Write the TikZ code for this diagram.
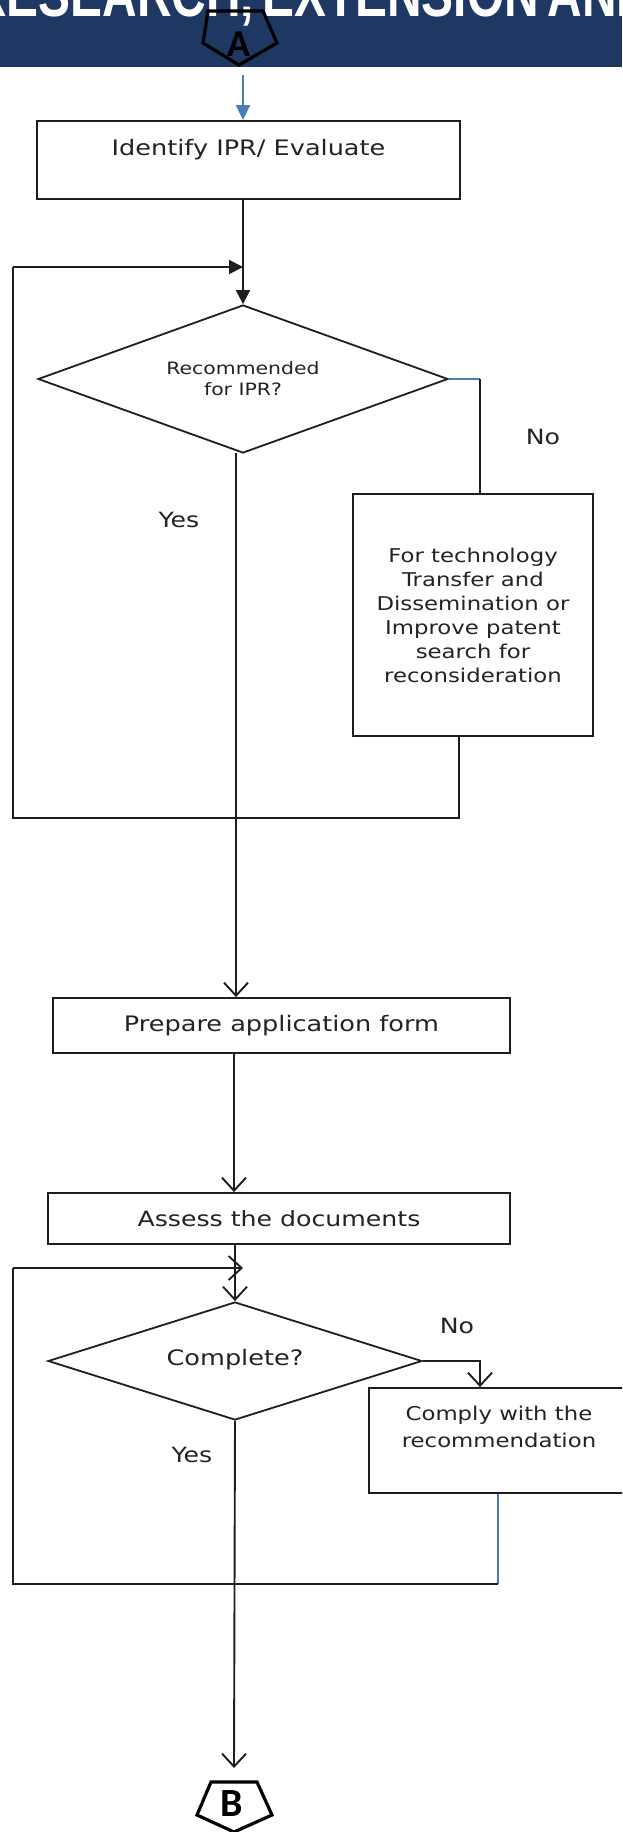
\documentclass[tikz,border=0pt]{standalone}
\usepackage{fontspec}
\setmainfont{DejaVu Sans}[FakeStretch=1.2]
\newfontfamily\bannerfont{Liberation Sans}[FakeStretch=0.76]
\newfontfamily\connfont{Carlito}
\usetikzlibrary{shapes.geometric,arrows.meta}
\definecolor{navy}{RGB}{31,56,99}
\definecolor{linec}{RGB}{30,30,30}
\definecolor{textc}{RGB}{35,35,35}
\definecolor{flowblue}{RGB}{74,126,187}
\newcommand{\fsz}[2]{\fontsize{#1}{#2}\selectfont}
\begin{document}
\begin{tikzpicture}[x=1pt,y=-1pt,
  box/.style={draw=linec, line width=1.9pt, rectangle, inner sep=0pt, align=center, text=textc},
  decision/.style={draw=linec, line width=1.8pt, diamond, inner sep=0pt, align=center, text=textc},
  flow/.style={draw=linec, line width=1.9pt},
  bflow/.style={draw=flowblue, line width=1.9pt},
  openarrow/.style={-{Straight Barb[length=13pt,width=24pt]}},
  fillarrow/.style={-{Triangle[length=14pt,width=14pt]}},
  lbl/.style={text=textc, inner sep=0pt, font=\fsz{21}{26}},
  connector/.style={draw=black, line width=3.2pt, line join=miter},
]
\useasboundingbox (0,0) rectangle (622,1832);
\clip (0,0) rectangle (622,1832);
\fill[white] (0,0) rectangle (622,1832);

% title banner
\fill[navy] (0,0) rectangle (622,67);
\node[anchor=base west, inner sep=0pt, text=white, font=\bannerfont\bfseries\fsz{63}{70}] (title) at (-28,16) {RESEARCH,\hspace{8pt}EXTENSION\hspace{9pt}AND};

% off-page connector A
\draw[connector] (208,11) -- (263,11) -- (277,43) -- (239,65) -- (203,43) -- cycle;
\node[inner sep=0pt, font=\connfont\bfseries\fsz{38}{40}] (conA) at (239,44) {A};
\coordinate (conAout) at (243,75);

% process boxes and decisions
\node[box, minimum width=423pt, minimum height=78pt, font=\fsz{21.3}{26}] (identify) at (248.5,160) {Identify IPR/ Evaluate\\\mbox{}};
\node[decision, aspect=2.77, minimum width=410pt, minimum height=148pt, font=\fsz{17}{21}] (recommend) at (243,379) {Recommended\\for IPR?};
\node[box, minimum width=240pt, minimum height=242pt, font=\fsz{19}{24}] (transfer) at (473,615) {For technology\\Transfer and\\Dissemination or\\Improve patent\\search for\\reconsideration};
\node[box, minimum width=457pt, minimum height=55pt, font=\fsz{21.3}{26}] (prepare) at (281.5,1025.5) {Prepare application form};
\node[box, minimum width=462pt, minimum height=51pt, font=\fsz{21}{26}] (assess) at (279,1218.5) {Assess the documents};
\node[decision, aspect=3.17, minimum width=374pt, minimum height=118pt, font=\fsz{21.3}{26}] (complete) at (235,1361) {\raisebox{8pt}{Complete?}};
\node[box, minimum width=260pt, minimum height=105pt, font=\fsz{19}{27}] (comply) at (499,1440.5) {Comply with the\\recommendation\\\mbox{}};

% off-page connector B
\draw[connector] (211,1782) -- (257,1782) -- (272,1815) -- (234,1832) -- (197,1815) -- cycle;
\node[inner sep=0pt, font=\connfont\bfseries\fsz{40}{42}] (conB) at (232,1804) {B};

% branch labels
\node[lbl] (no1) at (543,437) {No};
\node[lbl] (yes1) at (179,520) {Yes};
\node[lbl] (no2) at (457,1326) {No};
\node[lbl] (yes2) at (192,1455) {Yes};

% loop coordinates
\coordinate (loopA) at (13,267);
\coordinate (joinA) at (243,267);
\coordinate (loopB) at (13,1268);
\coordinate (joinB) at (243,1268);

% connectors
\draw[bflow, -{Triangle[length=15pt,width=14pt]}] (conAout) -- (identify.north -| conAout);
\draw[flow, fillarrow] (identify.south -| recommend.north) -- (recommend.north);
\draw[bflow] (recommend.east) -- (480,379);
\draw[flow] (480,379) -- (transfer.north -| 480,0);
\draw[flow] (transfer.south -| 459,0) -- (459,818) -- (13,818) -- (loopA);
\draw[flow, fillarrow] (loopA) -- (joinA);
\draw[flow, openarrow] (236,453) -- (prepare.north -| 236,0);
\draw[flow, openarrow] (prepare.south -| 234,0) -- (assess.north -| 234,0);
\draw[flow, openarrow] (assess.south -| complete.north) -- (complete.north);
\draw[flow, openarrow] (complete.east) -- (480,1361) -- (comply.north -| 480,0);
\draw[bflow] (comply.south -| 498,0) -- (498,1584);
\draw[flow] (498,1584) -- (13,1584) -- (loopB);
\draw[flow, openarrow] (loopB) -- (joinB);
\draw[flow, openarrow] (complete.south) -- (234,1768);
\end{tikzpicture}
\end{document}
